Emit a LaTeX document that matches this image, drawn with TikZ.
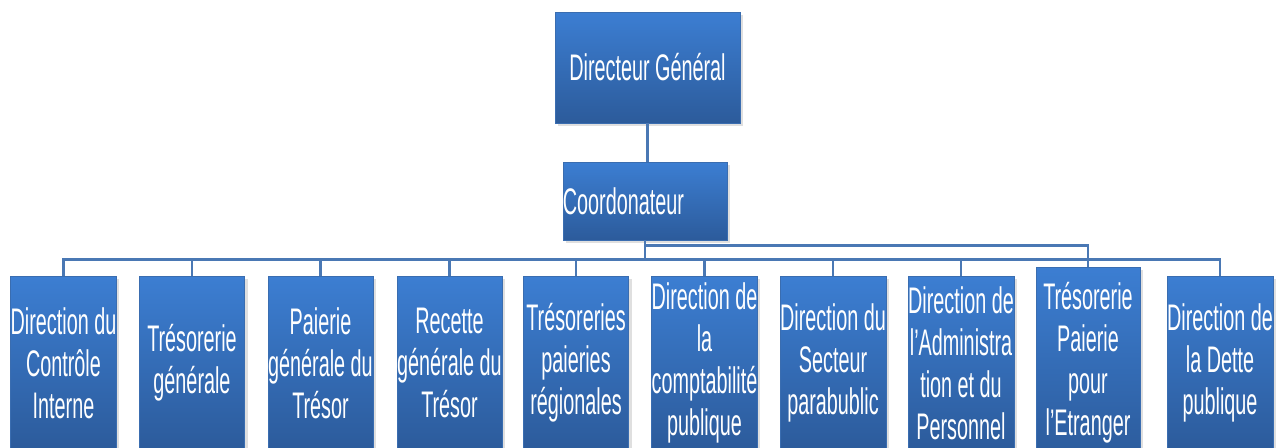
\documentclass[tikz,border=0pt]{standalone}
\usepackage{fontspec}
\setmainfont[FakeStretch=0.535]{Liberation Sans}
\usetikzlibrary{shadows}
\definecolor{boxtop}{HTML}{3C7ED2}
\definecolor{boxbot}{HTML}{2C5B9B}
\definecolor{boxedge}{HTML}{3A6DB0}
\definecolor{linkcol}{HTML}{4A78B4}
\tikzset{
  orgbox/.style={rectangle, draw=boxedge, line width=0.6pt, top color=boxtop, bottom color=boxbot,
    text=white, align=center, inner sep=0pt,
    font=\fontsize{37}{42}\selectfont,
    drop shadow={opacity=0.25, shadow xshift=3pt, shadow yshift=-3pt}},
  unitbox/.style={orgbox, minimum width=105pt, minimum height=174pt},
  link/.style={draw=linkcol, line width=2.6pt}
}
\begin{document}
\begin{tikzpicture}[x=1pt,y=-1pt]
\useasboundingbox (0,0) rectangle (1276,447);
\clip (0,0) rectangle (1276,447);
\fill[white] (0,0) rectangle (1276,447);
% nodes
\node[orgbox, minimum width=185pt, minimum height=111pt] (dg) at (647.5,67.5) {Directeur Général};
\node[orgbox, minimum width=164pt, minimum height=78pt] (coord) at (645,201) {};
\node[text=white, anchor=west, inner sep=0pt, font=\fontsize{37}{42}\selectfont] (coordtxt) at (coord.west) {Coordonateur};
\node[unitbox] (b1) at (63.5,363) {Direction du\\Contrôle\\Interne};
\node[unitbox] (b2) at (192,363) {Trésorerie\\générale};
\node[unitbox] (b3) at (320.5,363) {Paierie\\générale du\\Trésor};
\node[unitbox] (b4) at (449.5,363) {Recette\\générale du\\Trésor};
\node[unitbox] (b5) at (576,363) {Trésoreries\\paieries\\régionales};
\node[unitbox] (b6) at (704.5,363) {Direction de\\la\\comptabilité\\publique};
\node[unitbox] (b7) at (833,363) {Direction du\\Secteur\\parabublic};
\node[unitbox] (b8) at (961,363) {Direction de\\l’Administra\\tion et du\\Personnel};
\node[unitbox, minimum width=104pt, minimum height=192pt] (b9) at (1088,363) {Trésorerie\\Paierie\\pour\\l'Etranger};
\node[unitbox] (b10) at (1220,363) {Direction de\\la Dette\\publique};
% connectors
\draw[link] (dg.south) -- (dg.south |- coord.north);
\foreach \b in {b1,b2,b3,b4,b5,b6,b7,b8,b10}{
  \draw[link] (coord.south) -- ++(0,19) -| (\b.north);
}
\draw[link] (coord.south) -- ++(0,5) -| (b9.north);
\end{tikzpicture}
\end{document}
